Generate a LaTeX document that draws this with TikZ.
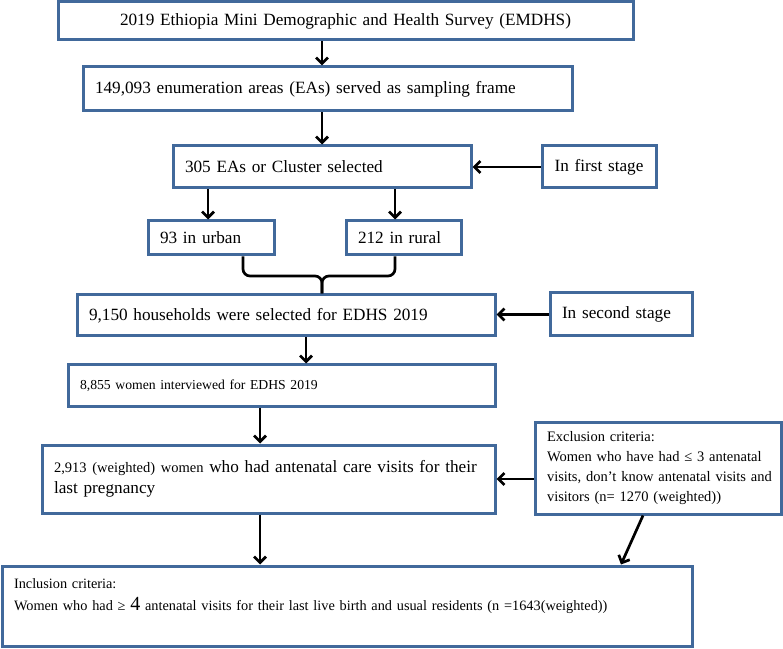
\documentclass[tikz,border=0pt]{standalone}
\usepackage{fontspec}
\setmainfont{Liberation Serif}
\usetikzlibrary{arrows.meta}

\definecolor{boxblue}{RGB}{65,105,155}

\tikzset{
	box/.style={draw=boxblue, line width=3pt, fill=white, inner xsep=12pt, inner ysep=2pt, align=left, font=\fontsize{17.2}{21}\selectfont},
	small/.style={font=\fontsize{14.5}{19.7}\selectfont},
	arr/.style={line width=2.7pt, -{Straight Barb[length=6pt,width=12pt,line width=2.7pt]}},
	link/.style={line width=2.7pt, rounded corners=7pt},
}

\begin{document}
\begin{tikzpicture}[x=1pt, y=1pt]
	\useasboundingbox (0,0) rectangle (783,648);

	\node[box, align=center, text width=551pt, minimum height=38pt] (survey) at (345.5,627) {2019 Ethiopia Mini Demographic and Health Survey (EMDHS)};
	\node[box, text width=465pt, minimum height=44pt] (frame) at (327.5,559) {149,093 enumeration areas (EAs) served as sampling frame};
	\node[box, text width=274pt, minimum height=42pt] (clusters) at (322,481) {305 EAs or Cluster selected};
	\node[box, align=center, inner xsep=4pt, text width=106pt, minimum height=42pt] (stage1) at (599,481) {In first stage};
	\node[box, text width=102pt, minimum height=34pt] (urban) at (211,410) {93 in urban};
	\node[box, text width=91pt, minimum height=34pt] (rural) at (403.5,410) {212 in rural};
	\node[box, text width=394pt, minimum height=41pt] (households) at (286,332.5) {9,150 households were selected for EDHS 2019};
	\node[box, text width=118pt, minimum height=43pt] (stage2) at (621,333.5) {In second stage};
	\node[box, font=\fontsize{13.7}{19}\selectfont, text width=403pt, minimum height=41pt] (women) at (281.5,262.5) {8,855 women interviewed for EDHS 2019};
	\node[box, text width=429pt, minimum height=68pt] (antenatal) at (268.5,169) {{\fontsize{14.5}{21}\selectfont 2,913 (weighted) women} who had antenatal care visits for their\\ last pregnancy};
	\node[box, small, text width=222pt, minimum height=92pt] (exclusion) at (658,180) {Exclusion criteria:\\ \makebox[222pt][s]{Women who have had ≤ 3 antenatal}\\ \makebox[222pt][s]{visits, don’t know antenatal visits and}\\ visitors (n= 1270 (weighted))};
	\node[box, font=\fontsize{14.3}{19.7}\selectfont, text width=666pt, minimum height=80pt] (inclusion) at (347,42) {Inclusion criteria:\\[3pt] Women who had ≥ {\fontsize{20}{21}\selectfont 4} antenatal visits for their last live birth and usual residents (n =1643(weighted))\\[3pt] \mbox{}};

	\coordinate (c322) at (322,0);
	\coordinate (c208) at (208,0);
	\coordinate (c243) at (243,0);
	\coordinate (c395) at (395,0);
	\coordinate (c306) at (306,0);
	\coordinate (c260) at (260,0);
	\coordinate (c643) at (643,0);
	\coordinate (c621) at (621,0);
	\coordinate (join) at (322,372);

	\draw[arr] (survey.south -| c322) -- (frame.north -| c322);
	\draw[arr] (frame.south -| c322) -- (clusters.north -| c322);
	\draw[arr] (stage1.west) -- (clusters.east);
	\draw[arr] (clusters.south -| c208) -- (urban.north -| c208);
	\draw[arr] (clusters.south -| c395) -- (rural.north -| c395);

	\draw[link] (urban.south -| c243) |- (join) -- (households.north -| join);
	\draw[link] (rural.south -| c395) |- (join) -- (households.north -| join);

	\draw[arr] (stage2.west) -- (stage2.west -| households.east);
	\draw[arr] (households.south -| c306) -- (women.north -| c306);
	\draw[arr] (women.south -| c260) -- (antenatal.north -| c260);
	\draw[arr] (exclusion.west |- antenatal.east) -- (antenatal.east);
	\draw[arr] (antenatal.south -| c260) -- (inclusion.north -| c260);
	\draw[arr] (exclusion.south -| c643) -- (inclusion.north -| c621);
\end{tikzpicture}
\end{document}
